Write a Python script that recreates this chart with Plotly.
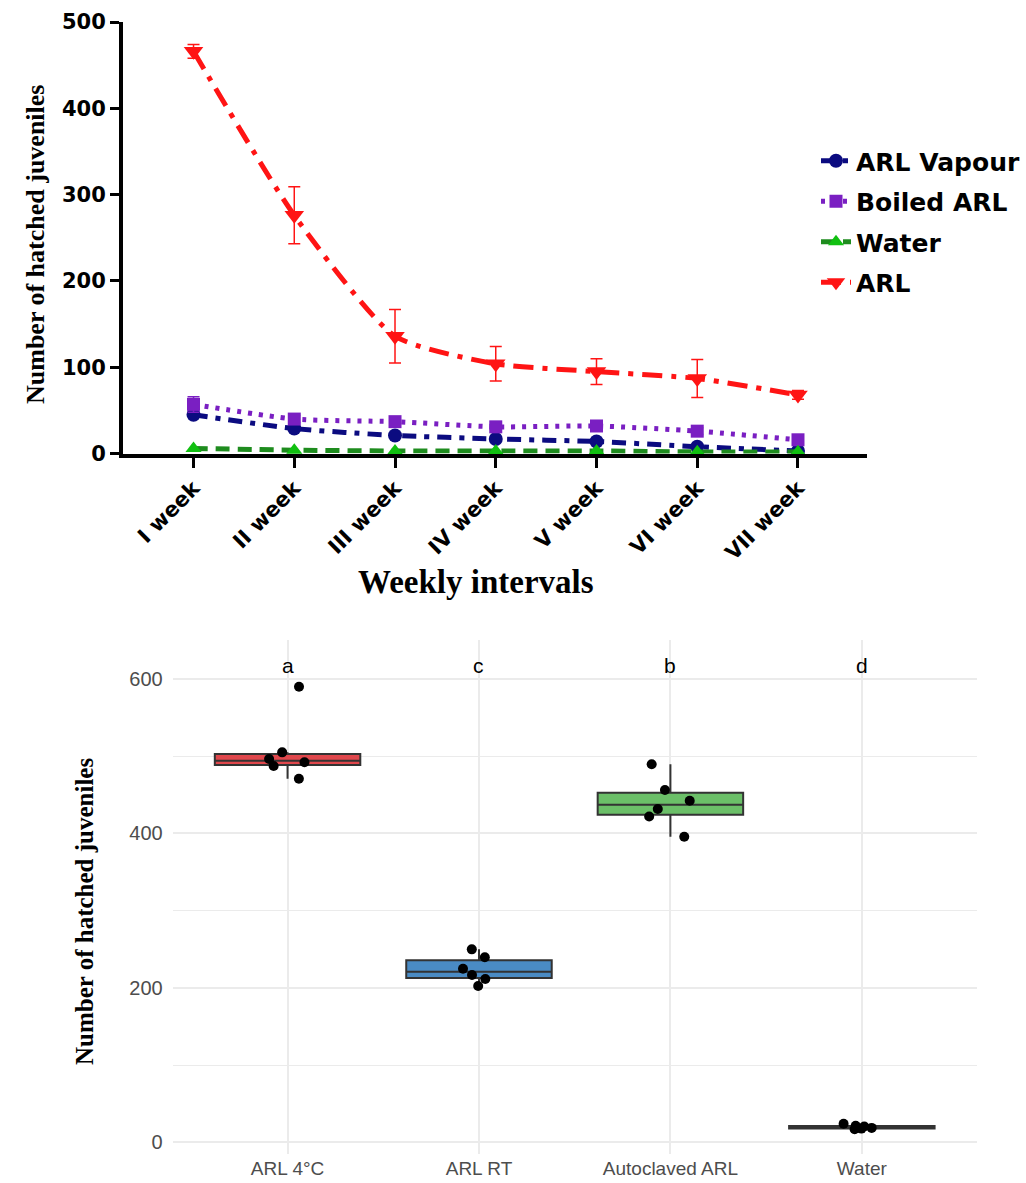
import numpy as np
import plotly.graph_objects as go

# ---- Weekly hatching (line chart) ----
weeks = ["I week", "II week", "III week", "IV week", "V week", "VI week", "VII week"]
arl_vapour = [45, 29, 21, 17, 14, 8, 3]
boiled_arl = [57, 40, 37, 31, 32, 26, 16]
boiled_arl_err = [9, 4, 3, 3, 3, 4, 3]
water_weekly = [6, 4, 3, 3, 3, 2, 2]
arl = [466, 276, 136, 104, 95, 87, 68]
arl_err = [8, 33, 31, 20, 15, 22, 5]

# ---- Total hatching by treatment (box plot) ----
treatments = ["ARL 4°C", "ARL RT", "Autoclaved ARL", "Water"]
hatch_arl_4c = [590.0, 505.0, 496.4, 492.1, 487.3, 470.9]
hatch_arl_rt = [239.6, 249.9, 224.8, 216.7, 211.5, 202.4]
hatch_autoclaved = [489.6, 456.2, 442.4, 431.7, 421.9, 395.7]
hatch_water = [16.9, 17.8, 18.7, 20.5, 21.4, 24.0]
group_letters = ["a", "c", "b", "d"]

W, H = 1026, 1183


def px_x(p):
    return p / W


def px_y(p):
    return 1 - p / H


fig = go.Figure()

# line series
bold_sans = dict(family="DejaVu Sans", size=25, color="black", weight="bold")

series = [
    ("ARL Vapour", arl_vapour, None, "#0B0B80", "#0B0B80", "circle", 14, "14px,8px,5px,8px"),
    ("Boiled ARL", boiled_arl, boiled_arl_err, "#7A1FC2", "#7A1FC2", "square", 13, "4px,7px"),
    ("Water", water_weekly, None, "#1E8C1E", "#11C011", "triangle-up", 14, "14px,8px"),
    ("ARL", arl, arl_err, "#FF1414", "#FF1414", "triangle-down", 17, "20px,9px,5px,9px"),
]
for i, (name, vals, err, lc, mc, sym, ms, dash) in enumerate(series):
    fig.add_trace(go.Scatter(
        x=weeks, y=vals, name=name, mode="lines+markers",
        line=dict(color=lc, width=5, dash=dash, shape="spline", smoothing=0.6),
        marker=dict(color=mc, symbol=sym, size=ms),
        error_y=None if err is None else dict(type="data", array=err, visible=True,
                                               color=lc, thickness=1.5, width=6),
        legendgroup=f"g{i}", cliponaxis=False, xaxis="x", yaxis="y",
    ))

# box plot: statistics from the replicate counts (type-7 quantiles, 1.5 IQR whiskers)
box_groups = [
    (treatments[0], hatch_arl_4c, "#E0474C"),
    (treatments[1], hatch_arl_rt, "#4A8BC4"),
    (treatments[2], hatch_autoclaved, "#6BBF68"),
    (treatments[3], hatch_water, "#333333"),
]
for cat, vals, color in box_groups:
    v = np.asarray(vals)
    q1, med, q3 = np.percentile(v, [25, 50, 75])
    iqr = q3 - q1
    lo = v[v >= q1 - 1.5 * iqr].min()
    hi = v[v <= q3 + 1.5 * iqr].max()
    fig.add_trace(go.Box(
        x=[cat], q1=[q1], median=[med], q3=[q3], lowerfence=[lo], upperfence=[hi],
        fillcolor=color, line=dict(color="#333333", width=2), whiskerwidth=0,
        boxpoints=False, showlegend=False, xaxis="x2", yaxis="y2",
    ))

# jittered replicate points
pts_x, pts_y = [], []
for cat, vals, _ in box_groups:
    pts_x += [cat] * len(vals)
    pts_y += list(vals)
fig.add_trace(go.Box(
    x=pts_x, y=pts_y, boxpoints="all", jitter=0.3, pointpos=0,
    fillcolor="rgba(0,0,0,0)", line=dict(width=0, color="rgba(0,0,0,0)"),
    marker=dict(color="black", size=10), showlegend=False, hoveron="points",
    xaxis="x2", yaxis="y2",
))

annotations = [
    dict(text="Number of hatched juveniles", textangle=-90, x=px_x(36), y=px_y(245),
         xref="paper", yref="paper", xanchor="center", yanchor="middle", showarrow=False,
         font=dict(family="Liberation Serif", size=26, color="black", weight="bold")),
    dict(text="Weekly intervals", x=px_x(476), y=px_y(582), xref="paper", yref="paper",
         xanchor="center", yanchor="middle", showarrow=False,
         font=dict(family="Liberation Serif", size=33, color="black", weight="bold")),
    dict(text="Number of hatched juveniles", textangle=-90, x=px_x(84), y=px_y(912),
         xref="paper", yref="paper", xanchor="center", yanchor="middle", showarrow=False,
         font=dict(family="Liberation Serif", size=25, color="black", weight="bold")),
]
for cat, letter in zip(treatments, group_letters):
    annotations.append(dict(text=letter, x=cat, y=617, xref="x2", yref="y2",
                            xanchor="center", yanchor="middle", showarrow=False,
                            font=dict(family="Liberation Sans", size=21, color="black")))

grey_tick_x = dict(family="Liberation Sans", size=19, color="#4D4D4D")
grey_tick_y = dict(family="Liberation Sans", size=20, color="#4D4D4D")
black_tick = dict(family="DejaVu Sans", size=21, color="black", weight="bold")

fig.update_layout(
    width=W, height=H, margin=dict(l=0, r=0, t=0, b=0, autoexpand=False),
    paper_bgcolor="white", plot_bgcolor="rgba(0,0,0,0)",
    boxmode="overlay", boxgap=0.24, boxgroupgap=0,
    showlegend=True,
    legend=dict(x=px_x(816), y=px_y(138), xanchor="left", yanchor="top",
                font=bold_sans, tracegroupgap=5, itemwidth=30,
                bgcolor="rgba(0,0,0,0)"),
    xaxis=dict(domain=[px_x(123), px_x(867)], type="category", range=[-0.7, 6.685],
               showline=True, linewidth=4, linecolor="black",
               ticks="outside", ticklen=10, tickwidth=3, tickcolor="black",
               tickangle=-45, showgrid=False, zeroline=False,
               tickfont=black_tick, anchor="y"),
    yaxis=dict(domain=[px_y(453.6), px_y(22)], range=[0, 500], dtick=100,
               showline=True, linewidth=4, linecolor="black",
               ticks="outside", ticklen=9, tickwidth=3, tickcolor="black",
               showgrid=False, zeroline=False,
               tickfont=black_tick, anchor="x"),
    xaxis2=dict(domain=[px_x(172.7), px_x(976.7)], type="category", range=[-0.6, 3.6],
                categoryorder="array", categoryarray=treatments,
                showline=False, ticks="", showgrid=True, gridcolor="#EBEBEB", gridwidth=2,
                zeroline=False, tickfont=grey_tick_x, ticklabelstandoff=1, anchor="y2"),
    yaxis2=dict(domain=[px_y(1154.3), px_y(640)], range=[-15.5, 650.5],
                tickvals=[0, 200, 400, 600], showline=False, ticks="",
                showgrid=True, gridcolor="#EBEBEB", gridwidth=2,
                minor=dict(tickvals=[100, 300, 500], showgrid=True,
                           gridcolor="#EBEBEB", gridwidth=1),
                zeroline=False, tickfont=grey_tick_y, ticklabelstandoff=9, anchor="x2"),
    annotations=annotations,
)

fig.write_html("out.html")
